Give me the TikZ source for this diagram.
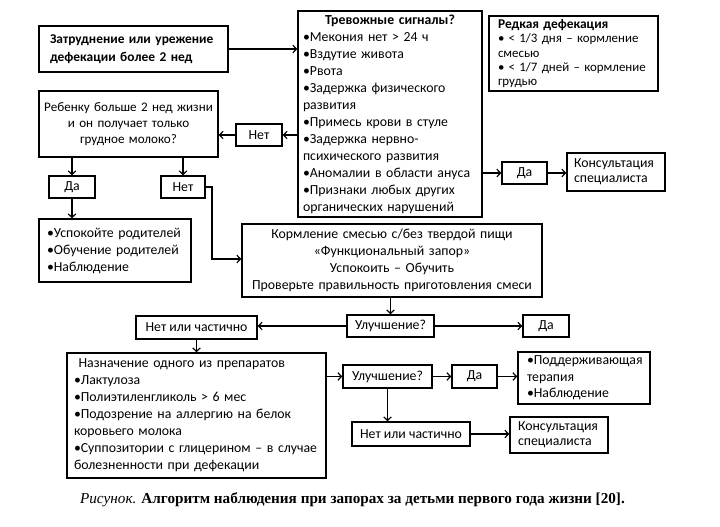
\documentclass[tikz,border=0pt]{standalone}
\usepackage{fontspec}
\setmainfont{Carlito}
\newfontfamily\capfont{Liberation Serif}
\usetikzlibrary{arrows.meta}
\begin{document}
\begin{tikzpicture}[x=1pt,y=-1pt,
  box/.style={draw, line width=1.5pt, inner ysep=0pt, inner xsep=6pt,
    font=\fontsize{13.8}{17}\selectfont},
  lbox/.style={box, align=left},
  cbox/.style={box, align=center, inner xsep=1pt},
  arr/.style={line width=1.2pt, -{Straight Barb[length=3.5pt,width=7.5pt,line width=1.2pt]}}]
\useasboundingbox (0,0) rectangle (720,527);
\fill[white] (0,0) rectangle (720,527);

% nodes
\node[lbox, minimum width=189pt, minimum height=46pt, text width=179pt, inner xsep=5pt,
  font=\fontsize{13.4}{17.5}\selectfont\bfseries] (b1) at (133.5,49)
  {\hspace*{6pt}Затруднение или урежение\\\hspace*{6pt}дефекации более 2 нед};

\node[lbox, minimum width=184pt, minimum height=206pt, text width=174pt, inner xsep=5pt] (alarm) at (390,114)
  {\makebox[174pt][c]{\bfseries Тревожные сигналы?}\\
   •Мекония нет > 24 ч\\
   •Вздутие живота\\
   •Рвота\\
   •Задержка физического\\
   развития\\
   •Примесь крови в стуле\\
   •Задержка нервно-\\
   психического развития\\
   •Аномалии в области ануса\\
   •Признаки любых других\\
   органических нарушений};

\node[lbox, minimum width=169pt, minimum height=75pt, text width=161pt, inner xsep=4pt,
  font=\fontsize{12.9}{14.3}\selectfont] (rare) at (573.5,53.5)
  {{\fontsize{13.4}{14.3}\selectfont\bfseries\hspace*{5pt}Редкая дефекация}\\
   \hspace*{5pt}• < 1/3 дня – кормление\\
   \hspace*{5pt}смесью\\
   \hspace*{5pt}• < 1/7 дней – кормление\\
   \hspace*{5pt}грудью};

\node[cbox, minimum width=179pt, minimum height=66pt, text width=177pt,
  font=\fontsize{13.1}{16}\selectfont] (q1) at (128.5,124)
  {Ребенку больше 2 нед жизни\\и он получает только\\грудное молоко?};

\node[cbox, minimum width=46pt, minimum height=22pt] (no1) at (259,135) {Нет};
\node[cbox, minimum width=46pt, minimum height=22pt] (yes1) at (72,187) {Да};
\node[cbox, minimum width=44pt, minimum height=22pt] (no2) at (183,187) {Нет};

\node[lbox, minimum width=152pt, minimum height=63pt, text width=146pt, inner xsep=3pt] (calm) at (115,250.5)
  {\hspace*{5pt}•Успокойте родителей\\\hspace*{5pt}•Обучение родителей\\\hspace*{5pt}•Наблюдение};

\node[cbox, minimum width=300pt, minimum height=73pt, text width=296pt] (feed) at (392,260.5)
  {Кормление смесью с/без твердой пищи\\
   «Функциональный запор»\\
   Успокоить – Обучить\\
   Проверьте правильность приготовления смеси};

\node[cbox, minimum width=87pt, minimum height=22pt] (imp1) at (390.5,326) {Улучшение?};
\node[cbox, minimum width=46pt, minimum height=22pt] (yes2) at (546,326) {Да};
\node[cbox, minimum width=121pt, minimum height=23pt] (part1) at (196.5,327.5) {Нет или частично};

\node[lbox, minimum width=259pt, minimum height=125pt, text width=253pt, inner xsep=3pt] (drugs) at (196.5,415.5)
  {\hspace*{4pt}\ Назначение одного из препаратов\\
   \hspace*{4pt}•Лактулоза\\
   \hspace*{4pt}•Полиэтиленгликоль > 6 мес\\
   \hspace*{4pt}•Подозрение на аллергию на белок\\
   \hspace*{4pt}коровьего молока\\
   \hspace*{4pt}•Суппозитории с глицерином – в случае\\
   \hspace*{4pt}болезненности при дефекации};

\node[cbox, minimum width=89pt, minimum height=23pt] (imp2) at (387.5,376.5) {Улучшение?};
\node[cbox, minimum width=45pt, minimum height=23pt] (yes3) at (474.5,376.5) {Да};

\node[lbox, minimum width=132pt, minimum height=52pt, text width=126pt, inner xsep=3pt,
  font=\fontsize{13.8}{16.5}\selectfont] (support) at (584,378)
  {\hspace*{6pt}•Поддерживающая\\\hspace*{6pt}терапия\\\hspace*{6pt}•Наблюдение};

\node[cbox, minimum width=118pt, minimum height=24pt] (part2) at (411,434) {Нет или частично};

\node[lbox, minimum width=98pt, minimum height=36pt, text width=92pt, inner xsep=3pt,
  font=\fontsize{13.8}{15}\selectfont] (cons2) at (559,435)
  {\hspace*{5pt}Консультация\\\hspace*{5pt}специалиста};

\node[cbox, minimum width=45pt, minimum height=22pt] (yesT) at (524.5,173) {Да};

\node[lbox, minimum width=98pt, minimum height=38pt, text width=92pt, inner xsep=3pt,
  font=\fontsize{13.8}{15}\selectfont] (cons1) at (616,172)
  {\hspace*{4pt}Консультация\\\hspace*{4pt}специалиста};

\node (cap) at (352.5,500) {\capfont\fontsize{15.2}{18}\selectfont
  \textit{Рисунок.} \textbf{Алгоритм наблюдения при запорах за детьми первого года жизни [20].}};

% connectors
\coordinate (c1) at (212,259);
\draw[arr] (b1.east) -- (b1.east -| alarm.west);
\draw[arr] (no1.east -| alarm.west) -- (no1.east);
\draw[arr] (no1.west) -- (no1.west -| q1.east);
\draw[arr] (yes1.north |- q1.south) -- (yes1.north);
\draw[arr] (no2.north |- q1.south) -- (no2.north);
\draw[arr] (yes1.south) -- (yes1.south |- calm.north);
\draw[arr] (no2.east) -| (c1) -- (c1 -| feed.west);
\draw[arr] (yesT.west -| alarm.east) -- (yesT.west);
\draw[arr] (yesT.east) -- (yesT.east -| cons1.west);
\draw[arr] (imp1.north |- feed.south) -- (imp1.north);
\draw[arr] (imp1.east) -- (yes2.west);
\draw[arr] (imp1.west) -- (imp1.west -| part1.east);
\draw[arr] (part1.south) -- (part1.south |- drugs.north);
\draw[arr] (imp2.west -| drugs.east) -- (imp2.west);
\draw[arr] (imp2.east) -- (yes3.west);
\draw[arr] (yes3.east) -- (yes3.east -| support.west);
\draw[arr] (imp2.south) -- (imp2.south |- part2.north);
\draw[arr] (part2.east) -- (part2.east -| cons2.west);
\end{tikzpicture}
\end{document}
